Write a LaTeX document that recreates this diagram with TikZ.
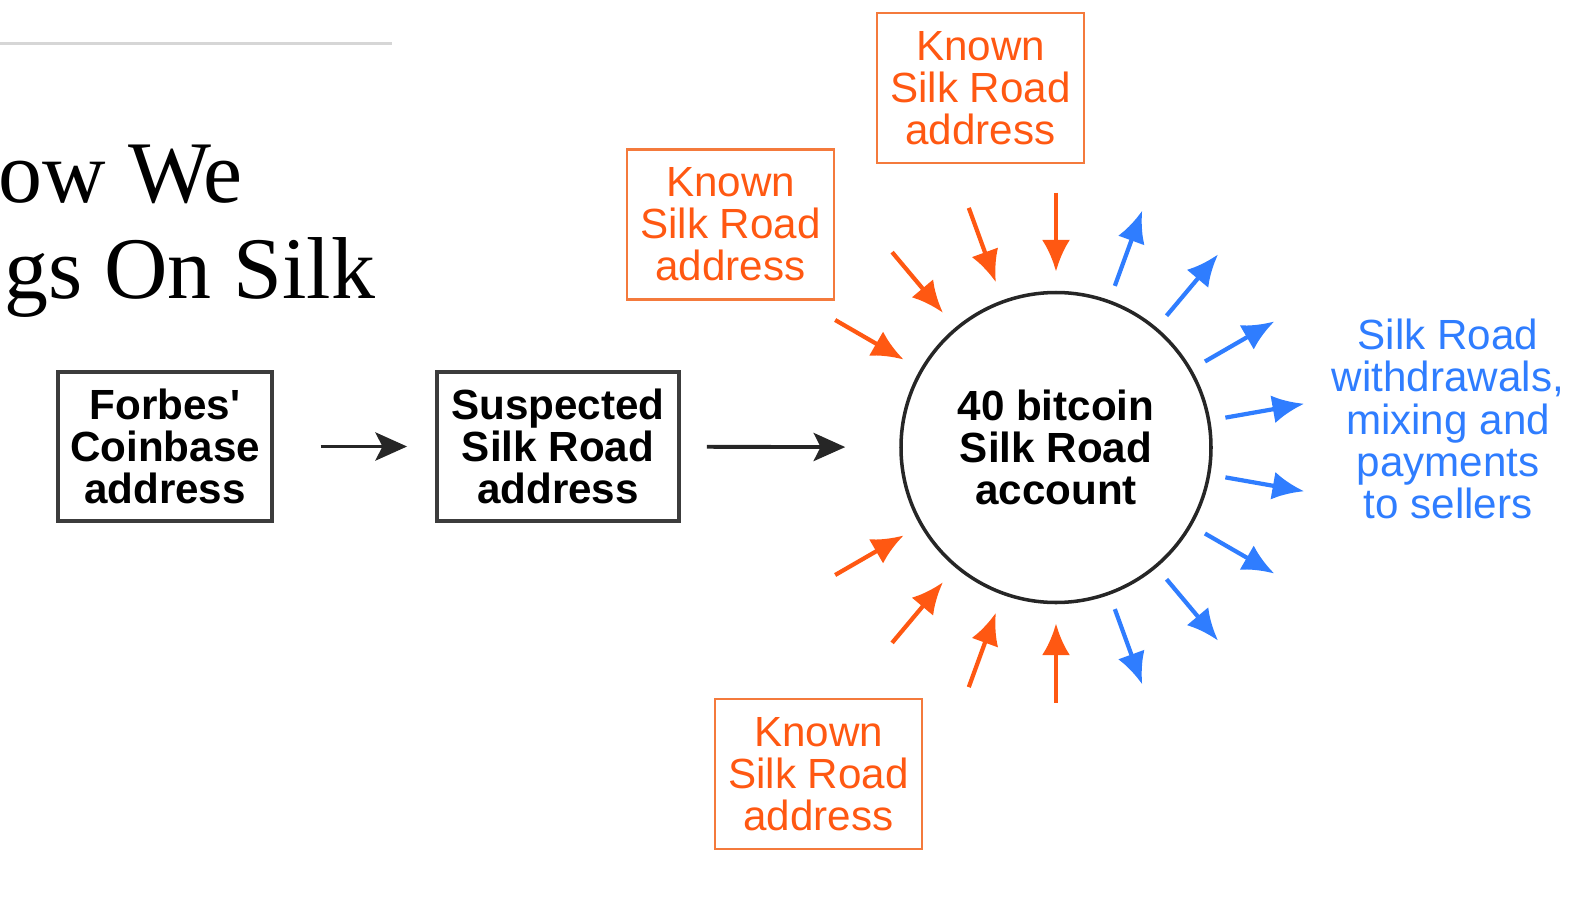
\documentclass[tikz,border=0pt]{standalone}
\usepackage{fontspec}
\setmainfont{Liberation Sans}
\newfontfamily\headfont{Liberation Serif}
\usetikzlibrary{arrows.meta,calc,positioning}
\definecolor{ink}{HTML}{262626}
\definecolor{known}{HTML}{FF5812}
\definecolor{knownedge}{HTML}{F47A3C}
\definecolor{outflow}{HTML}{2F7DFF}
\definecolor{hairline}{HTML}{D6D6D6}
\tikzset{line width=.85pt,
  every node/.style={font=\fontsize{12}{12}\selectfont,align=center},
  addrbox/.style={draw=ink!90,line width=1.1pt,minimum width=2.08cm,minimum height=1.49cm,
    font=\fontsize{12}{12}\selectfont\bfseries},
  knownbox/.style={draw=knownedge,text=known,line width=.8pt,minimum width=2.07cm,minimum height=1.5cm},
  flow/.style={-{Stealth[length=9pt,width=8pt,inset=2pt]},draw=ink,line width=1.1pt},
  inflow/.style={-{Latex[length=9pt,width=8pt]},draw=known,line width=1.2pt},
  outarrow/.style={-{Latex[length=9pt,width=8pt]},draw=outflow,line width=1.2pt},
  headline/.style={font=\headfont\fontsize{25}{25}\selectfont,inner sep=0pt}}

\begin{document}
\begin{tikzpicture}
\useasboundingbox (0,0) rectangle (15.84,9.11);
\draw[hairline,line width=.6pt] (0,8.675) -- (3.92,8.675);
\node[headline,anchor=base west] (head1) at (-0.02,7.09) {ow We};
\node[headline,anchor=base east] (head2) at (3.76,6.13) {gs On Silk};
% chain of addresses
\node[addrbox] (forbes) at (1.65,4.645) {Forbes\textquotesingle\\Coinbase\\address};
\node[addrbox,minimum width=2.42cm] (suspect) at (5.58,4.645) {Suspected\\Silk Road\\address};
\node[circle,draw=ink,line width=1pt,minimum size=3.1cm,
  font=\fontsize{12}{12}\selectfont\bfseries] (acct) at (10.56,4.635) {40 bitcoin\\Silk Road\\account};
\node[knownbox] (known1) at (9.805,8.23) {Known\\Silk Road\\address};
\node[knownbox] (known2) at (7.305,6.865) {Known\\Silk Road\\address};
\node[knownbox] (known3) at (8.185,1.37) {Known\\Silk Road\\address};
\node[text=outflow] (payout) at (14.48,4.92) {Silk Road\\withdrawals,\\mixing and\\payments\\to sellers};
\draw[flow,shorten <=.47cm,shorten >=.28cm] (forbes) -- (suspect);
\draw[flow,shorten <=.26cm,shorten >=.54cm] (suspect) -- (acct);
% fan of deposits and withdrawals
\foreach \a in {90,110,130,150,210,230,250,270}
  \draw[inflow] ($(acct)+(\a:2.55)$) -- ($(acct)+(\a:1.76)$);
\foreach \a in {70,50,...,-70}
  \draw[outarrow] ($(acct)+(\a:1.72)$) -- ($(acct)+(\a:2.52)$);
\end{tikzpicture}
\end{document}
